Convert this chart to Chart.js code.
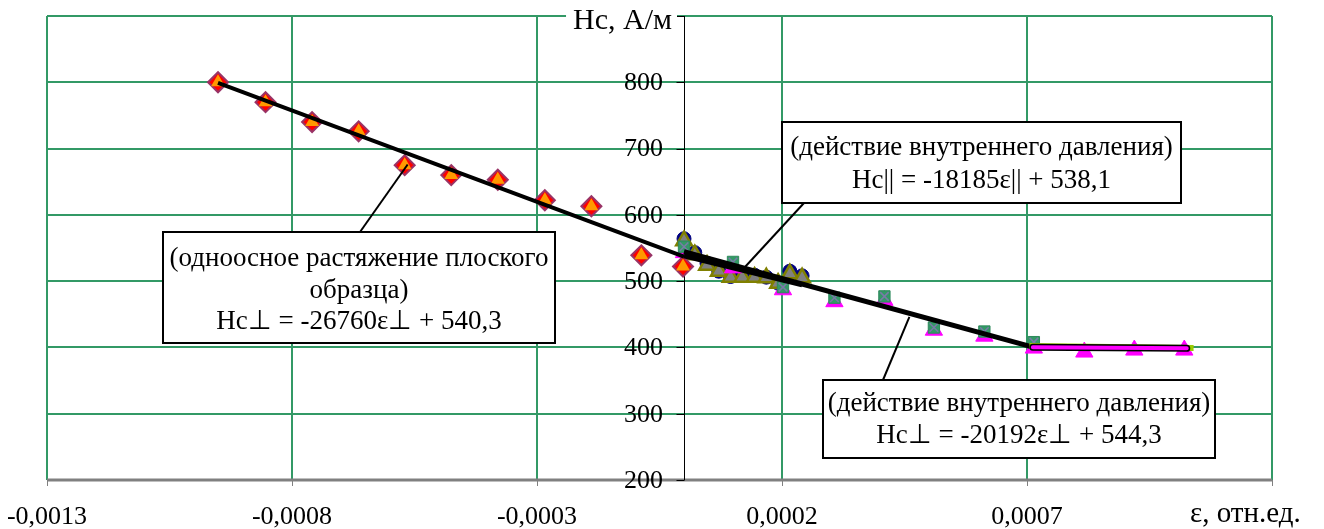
<!DOCTYPE html>
<html><head><meta charset="utf-8">
<script src="https://cdn.jsdelivr.net/npm/chart.js@4"></script>
<style>html,body{margin:0;padding:0;background:#fff;overflow:hidden}</style>
</head><body>
<canvas id="c" width="1324" height="529" style="display:block;width:1324px;height:529px"></canvas>
<script>
// ---- axis ticks ----
const xTickValues = [-0.0013, -0.0008, -0.0003, 0.0002, 0.0007, 0.0012];
const xTickLabels = ['-0,0013', '-0,0008', '-0,0003', '0,0002', '0,0007'];
const xAxisTitle = 'ε, отн.ед.';
const yTickValues = [200, 300, 400, 500, 600, 700, 800, 900];
const yTickLabels = ['200', '300', '400', '500', '600', '700', '800'];
const yAxisTitle = 'Нс, А/м';

// ---- uniaxial tension of flat specimen (diamonds) ----
const uniX = [-0.000951, -0.000854, -0.000759, -0.000664, -0.00057, -0.000475, -0.00038, -0.000284, -0.000189, -0.000087, -0.000002];
const uniY = [800, 770, 740, 726, 675, 660, 653, 622, 613, 539, 522];

// ---- internal pressure, parallel (circles + triangles) ----
const parX = [0, 0.000022, 0.000047, 0.000071, 0.000095, 0.000119, 0.000144, 0.000168, 0.000192, 0.000216, 0.000241];
const parCircleY = [564, 543, 527, 515, 507, 509, 509, 506, 497, 515, 508];
const parTriY = [561, 540, 524, 515, 506, 506, 506, 505, 497, 511, 505];

// ---- internal pressure, perpendicular (squares + magenta triangles) ----
const perpSqX = [0, 0.0001, 0.000202, 0.000307, 0.000409, 0.00051, 0.000613, 0.000714];
const perpSqY = [552, 529, 491, 475, 477, 430, 424, 408];
const perpTriX = [0, 0.0001, 0.000202, 0.000307, 0.000409, 0.00051, 0.000613, 0.000714, 0.000817, 0.000919, 0.001021];
const perpTriY = [543, 520, 487, 469, 471, 426, 417, 399, 393, 396, 396];

// ---- trend lines (end points) ----
const trendUniX = [-0.000951, 0];
const trendUniY = [799, 537];
const trendPerpX = [0, 0.000714];
const trendPerpY = [544.3, 400.1];
const trendParX = [0, 0.000241];
const trendParY = [538.1, 494.3];
const flatX = [0.000712, 0.001026];
const flatY = [400.1, 398.6];
const flatGreenX = [0.000705, 0.00104];
const flatGreenY = [402, 399];

// ---- annotation texts ----
const noteUni = ['(одноосное растяжение плоского', 'образца)', 'Нс⊥ = -26760ε⊥ + 540,3'];
const notePar = ['(действие внутреннего давления)', 'Нс|| = -18185ε|| + 538,1'];
const notePerp = ['(действие внутреннего давления)', 'Нс⊥ = -20192ε⊥ + 544,3'];
// leader targets (data coords)
const noteUniTarget = [-0.000564, 676];
const noteParTarget = [0.000124, 521];
const notePerpTarget = [0.00046, 446];

const pts = (xs, ys) => xs.map((v, i) => ({x: v, y: ys[i]}));
const FONT = '"Liberation Serif", "Times New Roman", serif';
const GREEN = '#339966';

function lineDs(xs, ys, color, width, cap) {
  return {data: pts(xs, ys), showLine: true, borderColor: color, borderWidth: width,
    pointRadius: 0, fill: false, borderCapStyle: cap || 'butt'};
}
function markDs(xs, ys, style, r, bg, bc, bw) {
  return {data: pts(xs, ys), showLine: false, pointStyle: style, pointRadius: r,
    backgroundColor: bg, borderColor: bc, borderWidth: bw};
}

const datasets = [
  lineDs(flatX, flatY, '#FF00FF', 4, 'round'),
  lineDs(flatX, flatY, '#000000', 7, 'round'),
  lineDs(flatGreenX, flatGreenY, '#99CC00', 6, 'butt'),
  lineDs(trendPerpX, trendPerpY, '#000000', 5),
  lineDs(trendParX, trendParY, '#000000', 5),
  lineDs(trendUniX, trendUniY, '#000000', 4),
  markDs(uniX, uniY, 'triangle', 8, '#FF9900', '#FF9900', 0),
  markDs(uniX, uniY, 'rectRot', 10, '#FF0000', '#993366', 2),
  markDs(perpSqX, perpSqY, 'crossRot', 6, '#7a7aa8', '#7a7aa8', 1.5),
  markDs(perpSqX, perpSqY, 'rect', 8, '#339966', '#2e8a5c', 1),
  markDs(perpTriX, perpTriY, 'triangle', 10, '#FF00FF', '#FF00FF', 1),
  markDs(parX, parTriY, 'triangle', 9, '#808080', '#808000', 2.5),
  markDs(parX, parCircleY, 'circle', 7, '#000080', '#000080', 1)
];

function drawNote(ctx, box, lines, lineYs, anchor, target, size) {
  ctx.save();
  ctx.strokeStyle = '#000'; ctx.lineWidth = 2;
  ctx.beginPath(); ctx.moveTo(anchor[0], anchor[1]); ctx.lineTo(target[0], target[1]); ctx.stroke();
  ctx.fillStyle = '#fff';
  ctx.fillRect(box[0], box[1], box[2], box[3]);
  ctx.strokeRect(box[0], box[1], box[2], box[3]);
  ctx.fillStyle = '#000';
  ctx.font = size + 'px ' + FONT;
  ctx.textAlign = 'center'; ctx.textBaseline = 'middle';
  const cx = box[0] + box[2] / 2;
  lines.forEach((t, i) => ctx.fillText(t, cx, lineYs[i]));
  ctx.restore();
}

const axesPlugin = {
  id: 'axesPlugin',
  beforeDatasetsDraw(chart) {
    const {ctx, chartArea: a, scales: {x, y}} = chart;
    const x0 = x.getPixelForValue(0);
    ctx.save();
    // x axis line
    ctx.strokeStyle = '#808080'; ctx.lineWidth = 3;
    ctx.beginPath(); ctx.moveTo(a.left, a.bottom); ctx.lineTo(a.right, a.bottom); ctx.stroke();
    ctx.lineWidth = 1;
    x.ticks.forEach(t => {
      const px = Math.round(x.getPixelForValue(t.value)) + 0.5;
      ctx.beginPath(); ctx.moveTo(px, a.bottom); ctx.lineTo(px, a.bottom + 6); ctx.stroke();
    });
    // y axis line at x = 0
    ctx.strokeStyle = '#000'; ctx.lineWidth = 1;
    const ax = Math.round(x0) + 0.5;
    ctx.beginPath(); ctx.moveTo(ax, a.top); ctx.lineTo(ax, a.bottom); ctx.stroke();
    y.ticks.forEach(t => {
      const py = Math.round(y.getPixelForValue(t.value)) + 0.5;
      ctx.beginPath(); ctx.moveTo(ax - 8, py); ctx.lineTo(ax, py); ctx.stroke();
    });
    // y tick labels
    ctx.fillStyle = '#000';
    ctx.font = '26px ' + FONT;
    ctx.textAlign = 'right'; ctx.textBaseline = 'middle';
    yTickLabels.forEach((lab, i) => {
      ctx.fillText(lab, x0 - 21, y.getPixelForValue(yTickValues[i]) + 1);
    });
    // y title at the top tick
    const tyPx = y.getPixelForValue(yTickValues[yTickValues.length - 1]);
    ctx.font = '30px ' + FONT;
    const tw = ctx.measureText(yAxisTitle).width;
    ctx.fillStyle = '#fff';
    ctx.fillRect(x0 - 12 - tw - 7, tyPx - 3, tw + 12, 6);
    ctx.fillStyle = '#000';
    ctx.fillText(yAxisTitle, x0 - 12, tyPx + 5);
    // x tick labels
    ctx.font = '26px ' + FONT;
    ctx.textAlign = 'center';
    xTickLabels.forEach((lab, i) => {
      ctx.fillText(lab, x.getPixelForValue(xTickValues[i]), a.bottom + 37);
    });
    ctx.font = '29px ' + FONT;
    ctx.textAlign = 'left';
    ctx.fillText(xAxisTitle, x.getPixelForValue(xTickValues[xTickValues.length - 1]) - 82, a.bottom + 34);
    ctx.restore();
  },
  afterDraw(chart) {
    const {ctx, scales: {x, y}} = chart;
    const tp = t => [x.getPixelForValue(t[0]), y.getPixelForValue(t[1])];
    drawNote(ctx, [163, 232, 392, 111], noteUni, [259, 291, 322], [360, 232], tp(noteUniTarget), 27);
    drawNote(ctx, [782, 122, 399, 81], notePar, [148, 181], [804, 203], tp(noteParTarget), 27);
    drawNote(ctx, [823, 380, 392, 78], notePerp, [404, 436], [883, 380], tp(notePerpTarget), 27);
  }
};

new Chart(document.getElementById('c'), {
  type: 'scatter',
  data: {datasets},
  options: {
    responsive: false, animation: false,
    layout: {padding: {left: 47, right: 52, top: 16, bottom: 49}},
    plugins: {legend: {display: false}, tooltip: {enabled: false}},
    scales: {
      x: {type: 'linear', min: -0.0013, max: 0.0012,
        afterBuildTicks: s => { s.ticks = xTickValues.map(v => ({value: v})); },
        ticks: {display: false}, border: {display: false},
        grid: {color: GREEN, lineWidth: 2, drawTicks: false}},
      y: {type: 'linear', min: 200, max: 900,
        afterBuildTicks: s => { s.ticks = yTickValues.map(v => ({value: v})); },
        ticks: {display: false}, border: {display: false},
        grid: {color: GREEN, lineWidth: 2, drawTicks: false}}
    }
  },
  plugins: [axesPlugin]
});
</script>
</body></html>
